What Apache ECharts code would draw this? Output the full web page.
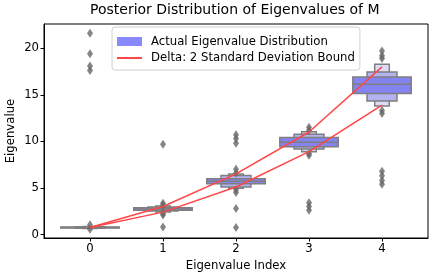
<!DOCTYPE html>
<html><head><meta charset="utf-8">
<script src="https://cdn.jsdelivr.net/npm/echarts/dist/echarts.min.js"></script>
<style>html,body{margin:0;padding:0;background:#fff}#c{width:436px;height:279px}</style>
</head><body><div id="c"></div>
<script>
// ---- data ----
const categories = [0, 1, 2, 3, 4];
const xTicks = [0, 1, 2, 3, 4];
const yTicks = [0, 5, 10, 15, 20];
const medians = [0.75, 2.74, 5.72, 9.89, 16.13];
// letter-value boxes [low, high], from the fourths outward
const innerBox = [[0.70, 0.80], [2.61, 2.87], [5.45, 5.99], [9.43, 10.40], [15.13, 16.90]];
const midBox   = [[0.67, 0.83], [2.52, 2.95], [5.09, 6.34], [9.17, 10.75], [14.33, 17.45]];
const outerBox = [[0.64, 0.86], [2.42, 3.05], [4.95, 6.50], [8.89, 11.04], [13.80, 18.28]];
const outliers = [
  [21.6, 19.4, 18.1, 17.6, 1.05, 0.55],
  [9.7, 3.35, 3.15, 2.25, 2.1, 0.8],
  [10.7, 10.3, 9.8, 7.0, 6.6, 4.8, 4.5, 2.8, 0.75],
  [11.5, 11.2, 8.7, 8.5, 3.4, 3.0, 2.6],
  [19.7, 19.2, 18.9, 13.3, 13.0, 6.8, 6.3, 5.8, 5.4]
];
const upperBound = [0.75, 3.0, 6.5, 11.0, 18.0];
const lowerBound = [0.75, 2.4, 5.1, 8.9, 13.9];

// ---- styles ----
const boxLevels = [outerBox, midBox, innerBox];
const boxWidths = [0.2, 0.41, 0.8];
const boxColors = ['#dcdcf7', '#b3b3f2', '#8484f0'];
const FONT = 'DejaVu Sans';
const FS = 11.7;
const distName = 'Actual Eigenvalue Distribution';
const boundName = 'Delta: 2 Standard Deviation Bound';

const outlierData = [];
categories.forEach((c, i) => outliers[i].forEach(v => outlierData.push([c, v])));

const chart = echarts.init(document.getElementById('c'), null, {renderer: 'canvas'});
chart.setOption({
  animation: false,
  textStyle: {fontFamily: FONT},
  title: {
    text: 'Posterior Distribution of Eigenvalues of M',
    left: 90, top: 3, padding: 0,
    textStyle: {fontFamily: FONT, fontSize: 14, fontWeight: 'normal', color: '#000'}
  },
  legend: {
    orient: 'vertical', left: 112, top: 27,
    itemWidth: 25, itemHeight: 9, itemGap: 4.5,
    padding: [8.5, 5, 6, 4],
    borderColor: '#d0d0d0', borderWidth: 1, borderRadius: 3,
    backgroundColor: 'rgba(255,255,255,0.8)',
    textStyle: {fontFamily: FONT, fontSize: FS, color: '#000', padding: [0, 0, 0, 4]},
    data: [
      {name: distName, icon: 'rect', itemStyle: {color: '#8888ff', borderWidth: 0}},
      {name: boundName, itemStyle: {opacity: 0}}
    ]
  },
  grid: {left: 44, right: 8, top: 24, bottom: 41, show: true, borderColor: '#000', borderWidth: 1, outerBoundsMode: 'none', containLabel: false},
  xAxis: {
    type: 'value', min: -0.63, max: 4.63,
    name: 'Eigenvalue Index', nameLocation: 'middle', nameGap: 22, nameMoveOverlap: false,
    nameTextStyle: {fontFamily: FONT, fontSize: FS, color: '#000'},
    axisLine: {show: true, onZero: false, lineStyle: {color: '#000', width: 1}},
    axisTick: {show: true, length: 3.5, customValues: xTicks, lineStyle: {color: '#000'}},
    axisLabel: {customValues: xTicks, fontFamily: FONT, fontSize: FS, color: '#000', margin: 5},
    splitLine: {show: false}
  },
  yAxis: {
    type: 'value', min: -0.38, max: 22.6,
    name: 'Eigenvalue', nameLocation: 'middle', nameGap: 27, nameMoveOverlap: false,
    nameTextStyle: {fontFamily: FONT, fontSize: FS, color: '#000'},
    axisLine: {show: true, onZero: false, lineStyle: {color: '#000', width: 1}},
    axisTick: {show: true, length: 3.5, customValues: yTicks, lineStyle: {color: '#000'}},
    axisLabel: {customValues: yTicks, fontFamily: FONT, fontSize: FS, color: '#000', margin: 5},
    splitLine: {show: false}
  },
  series: [
    {
      name: distName,
      type: 'custom',
      itemStyle: {color: '#8888ff'},
      z: 2,
      data: categories.map((c, i) => [c, medians[i]]),
      renderItem: function (params, api) {
        const i = params.dataIndex;
        const x = api.value(0);
        const children = [];
        boxLevels.forEach((lvl, li) => {
          const w = boxWidths[li];
          const p1 = api.coord([x - w / 2, lvl[i][1]]);
          const p2 = api.coord([x + w / 2, lvl[i][0]]);
          children.push({
            type: 'rect',
            shape: {x: p1[0], y: p1[1], width: p2[0] - p1[0], height: p2[1] - p1[1]},
            style: {fill: boxColors[li], stroke: '#7f7f7f', lineWidth: 1.5}
          });
        });
        const w = boxWidths[boxWidths.length - 1];
        const m1 = api.coord([x - w / 2, medians[i]]);
        const m2 = api.coord([x + w / 2, medians[i]]);
        children.push({
          type: 'line',
          shape: {x1: m1[0], y1: m1[1], x2: m2[0], y2: m2[1]},
          style: {stroke: '#7f7f7f', lineWidth: 1.5}
        });
        return {type: 'group', children};
      }
    },
    {
      type: 'scatter', z: 3,
      symbol: 'diamond', symbolSize: [6, 9],
      itemStyle: {color: '#666666'},
      data: outlierData
    },
    {
      name: boundName, type: 'line', z: 4, symbol: 'none',
      lineStyle: {color: '#ff4545', width: 1.5},
      itemStyle: {color: '#ff4545'},
      data: categories.map((c, i) => [c, upperBound[i]])
    },
    {
      name: boundName, type: 'line', z: 4, symbol: 'none',
      lineStyle: {color: '#ff4545', width: 1.5},
      itemStyle: {color: '#ff4545'},
      data: categories.map((c, i) => [c, lowerBound[i]])
    }
  ]
});
</script></body></html>
